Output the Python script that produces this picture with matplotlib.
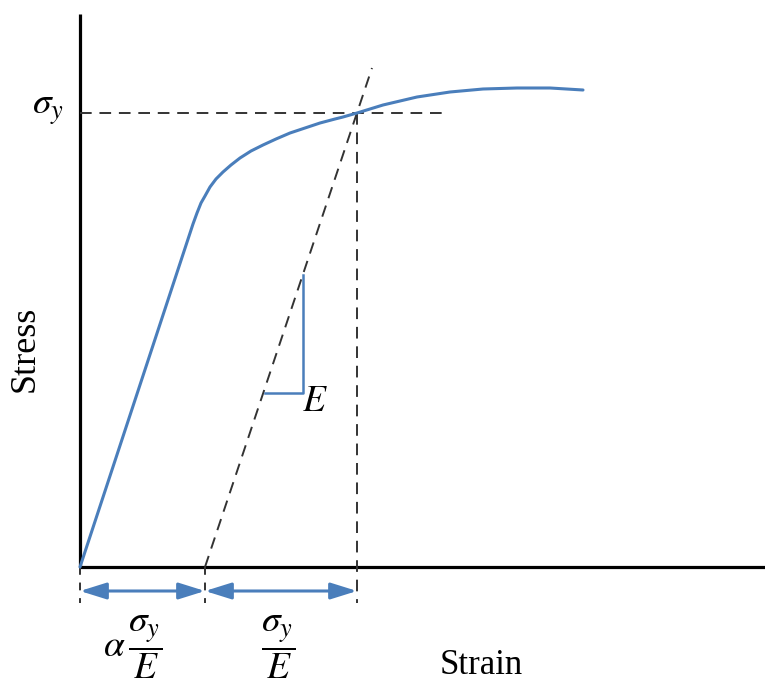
import matplotlib
matplotlib.use("Agg")
import matplotlib.pyplot as plt

plt.rcParams['mathtext.fontset'] = 'stix'
plt.rcParams['font.family'] = ['Liberation Serif', 'DejaVu Serif']

# stress-strain curve (arbitrary units)
strain = [0, 113, 117, 121, 125, 130, 136, 143, 151, 160, 171, 183, 196, 210,
          225, 240, 255, 263, 277, 290, 303, 320, 337, 370, 403, 437, 470, 503]
stress = [0, 343, 354, 364, 371, 380, 388, 395, 402, 409, 416, 422, 428, 434,
          439, 444, 448, 450, 454, 458, 462, 466, 470, 475, 478, 479, 479, 477]

# unloading (offset) line
offset_strain = [125, 292]
offset_stress = [0, 499]

# yield point
yield_strain = 277
yield_stress = 454
hline_end = 367
drop = -36

# slope triangle
tri_x = [185, 223, 223]
tri_y = [174, 174, 292]

blue = '#4a7ebb'
dark = '#333333'

fig = plt.figure(figsize=(7.65, 6.82), dpi=100)
ax = fig.add_axes([0, 0, 1, 1])
ax.set_xlim(-80, 685)
ax.set_ylim(-115, 567)
ax.axis('off')

# axes lines
ax.plot([0, 0], [0, 553], color='black', lw=2.3, solid_capstyle='butt')
ax.plot([0, 685], [0, 0], color='black', lw=2.3, solid_capstyle='butt')

dash = dict(color=dark, lw=1.4, dashes=(6, 4))
ax.plot(offset_strain, offset_stress, **dash)
ax.plot([0, hline_end], [yield_stress, yield_stress], **dash)
ax.plot([yield_strain, yield_strain], [yield_stress, drop], **dash)
ax.plot([0, 0], [0, drop], color=dark, lw=1.4, dashes=(4, 4))
ax.plot([offset_strain[0], offset_strain[0]], [0, drop], color=dark, lw=1.4, dashes=(4, 4))

ax.plot(strain, stress, color=blue, lw=2.2, solid_joinstyle='round', solid_capstyle='round')
ax.plot(tri_x, tri_y, color=blue, lw=1.8)

arr_y = -24
for x0, x1 in [(0, offset_strain[0]), (offset_strain[0], yield_strain)]:
    ax.annotate('', xy=(x1, arr_y), xytext=(x0, arr_y),
                arrowprops=dict(arrowstyle='<|-|>,head_length=0.8,head_width=0.25',
                                color=blue, lw=2.2,
                                mutation_scale=20, shrinkA=0, shrinkB=0))

ax.text(-32, 457, r'$\sigma_y$', fontsize=27, ha='center', va='center')
ax.text(235, 165, r'$E$', fontsize=27, ha='center', va='center')
ax.text(53, -80, r'$\alpha\,\dfrac{\sigma_y}{E}$', fontsize=27, ha='center', va='center')
ax.text(198, -80, r'$\dfrac{\sigma_y}{E}$', fontsize=27, ha='center', va='center')
ax.text(401, -99, 'Strain', fontsize=25, ha='center', va='center')
ax.text(-55, 218, 'Stress', fontsize=26, ha='center', va='center', rotation=90)

fig.savefig('out.png', dpi=100)
